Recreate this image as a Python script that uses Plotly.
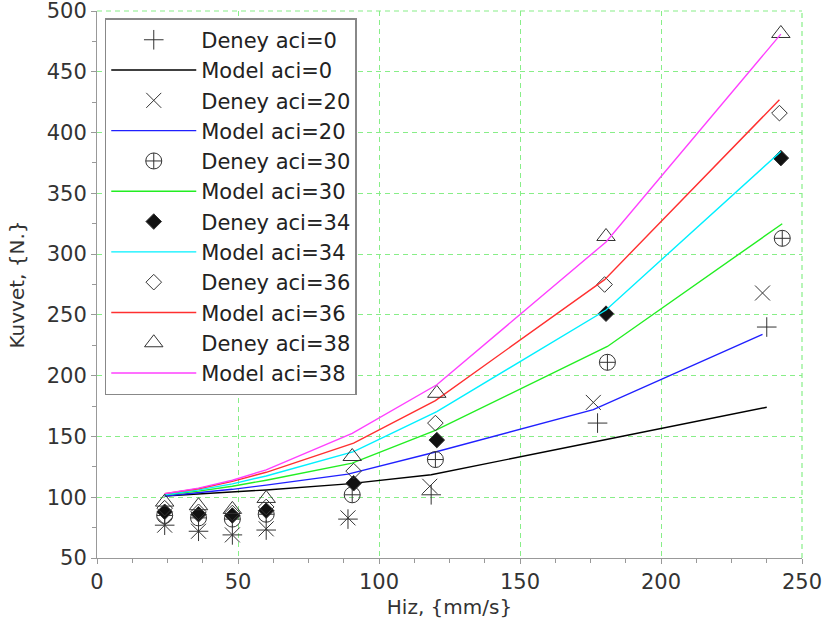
import plotly.graph_objects as go

# ---- data ----
x_aci0 = [24, 36, 48, 60, 89, 118.5, 177.5, 237.5]
deney_aci0 = [77, 72, 69, 73, 82, 102, 161, 240]
model_aci0 = [101, 102.5, 104, 106, 111, 118.5, 146, 174]

x_aci20 = [24, 36, 48, 60, 89, 118, 176, 236]
deney_aci20 = [77, 72, 69, 74, 83, 109, 178, 268]
model_aci20 = [101, 103.5, 106.5, 110, 119, 136, 172, 234]

x_aci30 = [24, 36, 48, 60, 90.5, 120, 181, 243]
deney_aci30 = [85, 83, 82, 86, 102, 131, 211, 313]
model_aci30 = [102, 105, 109, 114, 128, 155, 224, 325]

x_aci34 = [24, 36, 48, 60, 91, 120.5, 180.5, 242.5]
deney_aci34 = [88, 86, 85, 89, 111.5, 147, 251, 379]
model_aci34 = [102, 106, 111, 117.5, 137.5, 170.5, 254, 384.5]

x_aci36 = [24, 36, 48, 60, 91, 120, 180, 242]
deney_aci36 = [91, 88, 87, 92, 121.5, 161, 275, 416]
model_aci36 = [103, 107, 113, 120.5, 144.5, 179.5, 279, 427]

x_aci38 = [24, 36, 48, 60, 90.5, 120.5, 180.5, 242.5]
deney_aci38 = [96, 93, 90, 99, 133.5, 185.5, 314.5, 481.5]
model_aci38 = [103, 107.5, 114, 122.5, 152.5, 192.5, 310, 481]

series = [
    ("0", x_aci0, deney_aci0, model_aci0, "cross-thin-open", 14, "#000000"),
    ("20", x_aci20, deney_aci20, model_aci20, "x-thin-open", 15, "#2020ff"),
    ("30", x_aci30, deney_aci30, model_aci30, "circle-cross-open", 16, "#22ee22"),
    ("34", x_aci34, deney_aci34, model_aci34, "diamond", 12, "#00f0ff"),
    ("36", x_aci36, deney_aci36, model_aci36, "diamond-open", 12, "#ff3030"),
    ("38", x_aci38, deney_aci38, model_aci38, "triangle-up-open", 16, "#ff40ff"),
]

fig = go.Figure()
mk_col = "#333333"
for i, (name, xs, dy, my, sym, sz, col) in enumerate(series):
    fig.add_trace(go.Scatter(
        x=xs, y=dy, mode="markers", name=f"Deney aci={name}",
        legendgroup=f"d{name}",
        marker=dict(symbol=sym, size=sz, color="#111111" if sym == "diamond" else mk_col,
                    line=dict(color=mk_col, width=1.0)),
    ))
    fig.add_trace(go.Scatter(
        x=xs, y=my, mode="lines", name=f"Model aci={name}",
        legendgroup=f"m{name}",
        line=dict(color=col, width=1.4),
    ))

grid_col = "#88ee88"
axis_common = dict(
    showgrid=True, gridcolor=grid_col, griddash="5px,4px", gridwidth=1.2,
    zeroline=False, showline=True, linecolor="#999999", linewidth=1,
    ticks="outside", ticklen=5, tickcolor="#999999", automargin=False,
    ticklabeloverflow="allow",
    tickfont=dict(family="DejaVu Sans", size=21, color="#333333"),
    minor=dict(ticks="outside", ticklen=4, tickcolor="#999999", showgrid=False),
)

fig.update_xaxes(range=[0, 250], dtick=50, tick0=0,
                 title=dict(text="Hiz, {mm/s}", font=dict(family="DejaVu Sans", size=20, color="#333333"), standoff=6),
                 **axis_common)
fig.update_layout(xaxis_minor_dtick=12.5, yaxis_minor_dtick=25)
fig.update_yaxes(range=[50, 500], dtick=50, tick0=0,
                 title=dict(text="Kuvvet, {N.}", font=dict(family="DejaVu Sans", size=20, color="#333333"), standoff=16),
                 **axis_common)

# dashed grid lines along the top and right edges of the plot area
edge = dict(color=grid_col, width=1.2, dash="5px,4px")
fig.add_shape(type="line", xref="paper", yref="paper", x0=0, x1=1, y0=1, y1=1, line=edge, layer="below")
fig.add_shape(type="line", xref="paper", yref="paper", x0=1, x1=1, y0=0, y1=1, line=edge, layer="below")

fig.update_layout(
    width=826, height=628,
    margin=dict(l=97, r=24, t=11, b=70),
    plot_bgcolor="white", paper_bgcolor="white",
    font=dict(family="DejaVu Sans", color="#333333"),
    legend=dict(
        x=0.011, y=0.987, xanchor="left", yanchor="top",
        bgcolor="white", bordercolor="#888888", borderwidth=1.5,
        font=dict(family="DejaVu Sans", size=21, color="#222222"),
        itemwidth=85, tracegroupgap=0, traceorder="grouped",
    ),
    showlegend=True,
)

fig.write_html("out.html")
